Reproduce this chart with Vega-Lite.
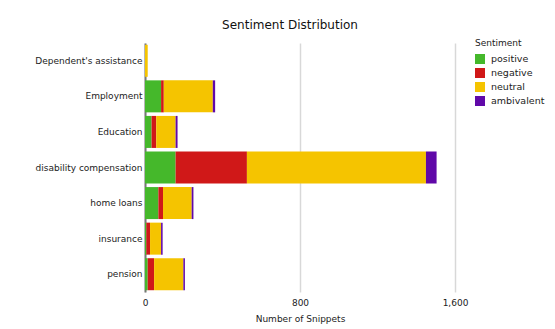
{
  "$schema": "https://vega.github.io/schema/vega-lite/v6.json",
  "width": 310,
  "height": 249,
  "autosize": {"type": "none"},
  "padding": {"left": 145, "top": 43, "right": 100, "bottom": 37},
  "background": "white",
  "title": {"text": "Sentiment Distribution", "font": "DejaVu Sans", "fontSize": 12, "fontWeight": "normal", "color": "#111", "anchor": "middle", "offset": 7, "dx": -10},
  "data": {"values": [
    {"category": "Dependent's assistance", "sentiment": "positive", "rank": 1, "count": 0},
    {"category": "Dependent's assistance", "sentiment": "negative", "rank": 2, "count": 0},
    {"category": "Dependent's assistance", "sentiment": "neutral", "rank": 3, "count": 14},
    {"category": "Dependent's assistance", "sentiment": "ambivalent", "rank": 4, "count": 0},
    {"category": "Employment", "sentiment": "positive", "rank": 1, "count": 83},
    {"category": "Employment", "sentiment": "negative", "rank": 2, "count": 14},
    {"category": "Employment", "sentiment": "neutral", "rank": 3, "count": 253},
    {"category": "Employment", "sentiment": "ambivalent", "rank": 4, "count": 12},
    {"category": "Education", "sentiment": "positive", "rank": 1, "count": 34},
    {"category": "Education", "sentiment": "negative", "rank": 2, "count": 24},
    {"category": "Education", "sentiment": "neutral", "rank": 3, "count": 100},
    {"category": "Education", "sentiment": "ambivalent", "rank": 4, "count": 10},
    {"category": "disability compensation", "sentiment": "positive", "rank": 1, "count": 158},
    {"category": "disability compensation", "sentiment": "negative", "rank": 2, "count": 368},
    {"category": "disability compensation", "sentiment": "neutral", "rank": 3, "count": 924},
    {"category": "disability compensation", "sentiment": "ambivalent", "rank": 4, "count": 55},
    {"category": "home loans", "sentiment": "positive", "rank": 1, "count": 69},
    {"category": "home loans", "sentiment": "negative", "rank": 2, "count": 24},
    {"category": "home loans", "sentiment": "neutral", "rank": 3, "count": 148},
    {"category": "home loans", "sentiment": "ambivalent", "rank": 4, "count": 9},
    {"category": "insurance", "sentiment": "positive", "rank": 1, "count": 7},
    {"category": "insurance", "sentiment": "negative", "rank": 2, "count": 19},
    {"category": "insurance", "sentiment": "neutral", "rank": 3, "count": 57},
    {"category": "insurance", "sentiment": "ambivalent", "rank": 4, "count": 8},
    {"category": "pension", "sentiment": "positive", "rank": 1, "count": 14},
    {"category": "pension", "sentiment": "negative", "rank": 2, "count": 33},
    {"category": "pension", "sentiment": "neutral", "rank": 3, "count": 151},
    {"category": "pension", "sentiment": "ambivalent", "rank": 4, "count": 8}
  ]},
  "mark": {"type": "bar", "stroke": null},
  "encoding": {
    "y": {
      "field": "category", "type": "nominal",
      "sort": ["Dependent's assistance", "Employment", "Education", "disability compensation", "home loans", "insurance", "pension"],
      "scale": {"paddingInner": 0.1, "paddingOuter": 0.05},
      "axis": {"title": null, "ticks": false, "labelPadding": 3, "labelFont": "DejaVu Sans", "labelFontSize": 9, "labelColor": "#222", "domainColor": "#777", "domainWidth": 2, "labelLimit": 200}
    },
    "x": {
      "field": "count", "type": "quantitative", "aggregate": "sum",
      "scale": {"domain": [0, 1600], "nice": false},
      "axis": {"values": [0, 800, 1600], "format": ",d", "labelFlush": false, "title": "Number of Snippets", "titleFont": "DejaVu Sans", "titleFontSize": 9, "titleFontWeight": "normal", "titleColor": "#222", "titlePadding": 7, "labelFont": "DejaVu Sans", "labelFontSize": 9, "labelColor": "#222", "labelPadding": 6, "domain": false, "ticks": false, "grid": true, "gridColor": "#d8d8d8", "gridWidth": 1.5}
    },
    "color": {
      "field": "sentiment", "type": "nominal",
      "scale": {"domain": ["positive", "negative", "neutral", "ambivalent"], "range": ["#45b82b", "#d01818", "#f5c400", "#6008a8"]},
      "legend": {"title": "Sentiment", "orient": "none", "legendX": 330, "legendY": -4, "titleFont": "DejaVu Sans", "titleFontSize": 9, "titleFontWeight": "normal", "titleColor": "#222", "titlePadding": 6, "labelFont": "DejaVu Sans", "labelFontSize": 9.5, "labelColor": "#222", "labelOffset": 6, "symbolType": "square", "symbolSize": 100, "symbolStrokeWidth": 0, "rowPadding": 4, "padding": 0}
    },
    "order": {"field": "rank", "type": "quantitative"}
  },
  "config": {"view": {"stroke": null}}
}
